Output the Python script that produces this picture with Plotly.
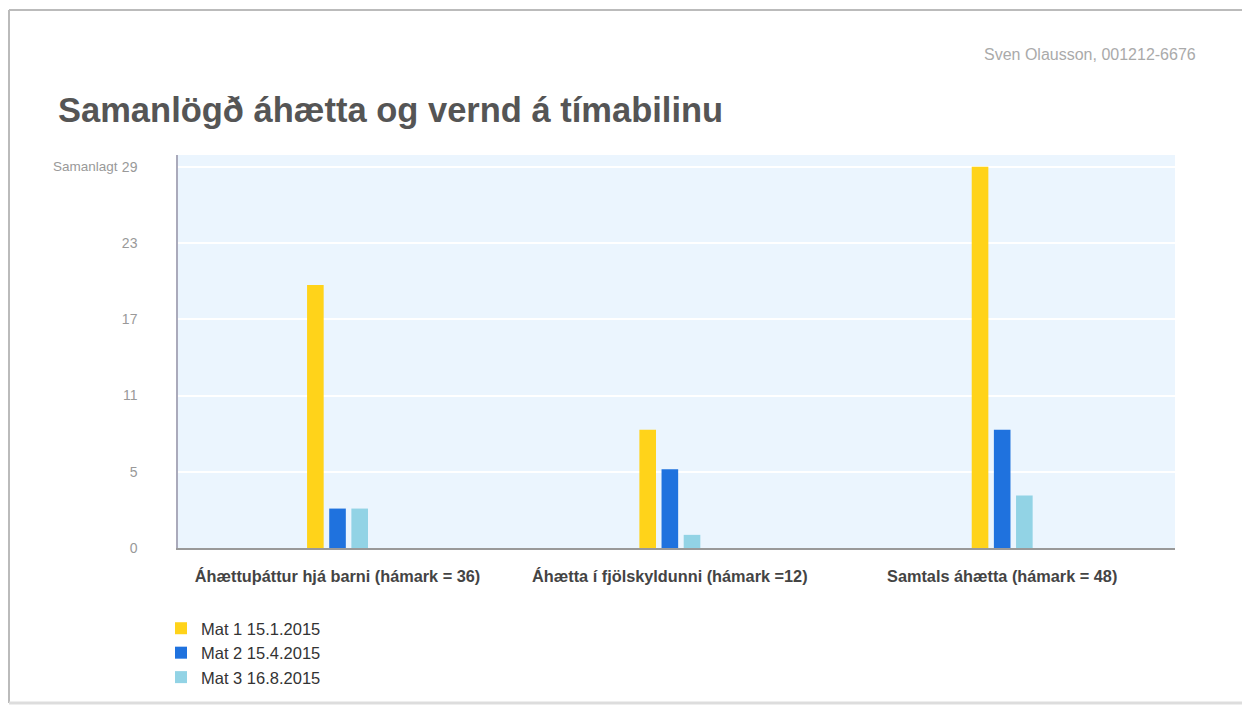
import plotly.graph_objects as go

categories = ["Áhættuþáttur hjá barni (hámark = 36)",
              "Áhætta í fjölskyldunni (hámark =12)",
              "Samtals áhætta (hámark = 48)"]
series_names = ["Mat 1 15.1.2015", "Mat 2 15.4.2015", "Mat 3 16.8.2015"]
mat1 = [20, 9, 29]
mat2 = [3, 6, 9]
mat3 = [3, 1, 4]
tick_vals = [0, 5.8, 11.6, 17.4, 23.2, 29]
tick_text = ["0", "5", "11", "17", "23", "29"]
colors = ["#FFD31A", "#1F72DE", "#92D3E5"]

# page body adds an 8px offset; positions below are in screenshot pixels
OFF = 8
W, H = 1250, 708
L = 178 - OFF
T = 155 - OFF
B = H - (548 - OFF)
R = W - (1175 - OFF)
PW = W - L - R
PH = H - T - B


def px(xs):
    return (xs - OFF - L) / PW


def py(ys):
    return ((H - B) - (ys - OFF)) / PH


fig = go.Figure()
for name, vals, c in zip(series_names, [mat1, mat2, mat3], colors):
    fig.add_trace(go.Bar(x=categories, y=vals, name=name, marker_color=c,
                         marker_line_width=0))

fig.update_layout(
    width=W, height=H,
    margin=dict(l=L, r=R, t=T, b=B),
    paper_bgcolor="white",
    plot_bgcolor="#EBF5FE",
    barmode="group",
    bargap=0.80,
    bargroupgap=0.25,
    font=dict(family="Liberation Sans, Arial, sans-serif", color="#444"),
    title=dict(text="<b>Samanlögð áhætta og vernd á tímabilinu</b>",
               x=(58 - OFF) / W, xanchor="left", xref="container",
               y=1 - (110 - OFF) / H, yanchor="middle",
               font=dict(size=34.5, color="#555555",
                         family="Liberation Sans, Arial, sans-serif")),
    xaxis=dict(showgrid=False, showline=True, linecolor="#999", linewidth=1.5,
               range=[-0.48, 2.52],
               tickfont=dict(size=16.3, color="#444"), ticks="", fixedrange=True,
               ticklabelstandoff=13),
    yaxis=dict(range=[0, 29.9], tickvals=tick_vals, ticktext=tick_text,
               showgrid=True, gridcolor="white", gridwidth=1.5,
               showline=True, linecolor="#aab", linewidth=1.5,
               zeroline=False, tickfont=dict(size=14, color="#999"), ticks="",
               ticklabelstandoff=36),
    legend=dict(x=px(161), xanchor="left", y=py(611), yanchor="top",
                orientation="v", font=dict(size=16.5, color="#333"),
                tracegroupgap=0, itemwidth=30, bgcolor="rgba(0,0,0,0)"),
    showlegend=True,
)

fig.update_xaxes(tickvals=categories,
                 ticktext=["<b>" + c + "</b>" for c in categories])

fig.add_annotation(text="Samanlagt", xref="paper", yref="paper", x=px(120), y=py(166),
                   xanchor="right", yanchor="middle", showarrow=False,
                   font=dict(size=13.5, color="#999"))
fig.add_annotation(text="Sven Olausson, 001212-6676", xref="paper", yref="paper",
                   x=px(1198), y=py(55),
                   xanchor="right", yanchor="middle", showarrow=False,
                   font=dict(size=16, color="#aaa"))

# outer frame of the screenshot
frame = "#BBBBBB"
fig.add_shape(type="line", xref="paper", yref="paper",
              x0=px(9), x1=px(1260), y0=py(10), y1=py(10),
              line=dict(color=frame, width=2))
fig.add_shape(type="line", xref="paper", yref="paper",
              x0=px(9), x1=px(9), y0=py(10), y1=py(703),
              line=dict(color=frame, width=2))
fig.add_shape(type="line", xref="paper", yref="paper",
              x0=px(9), x1=px(1260), y0=py(703), y1=py(703),
              line=dict(color="#DDDDDD", width=3))

fig.write_html("out.html")
